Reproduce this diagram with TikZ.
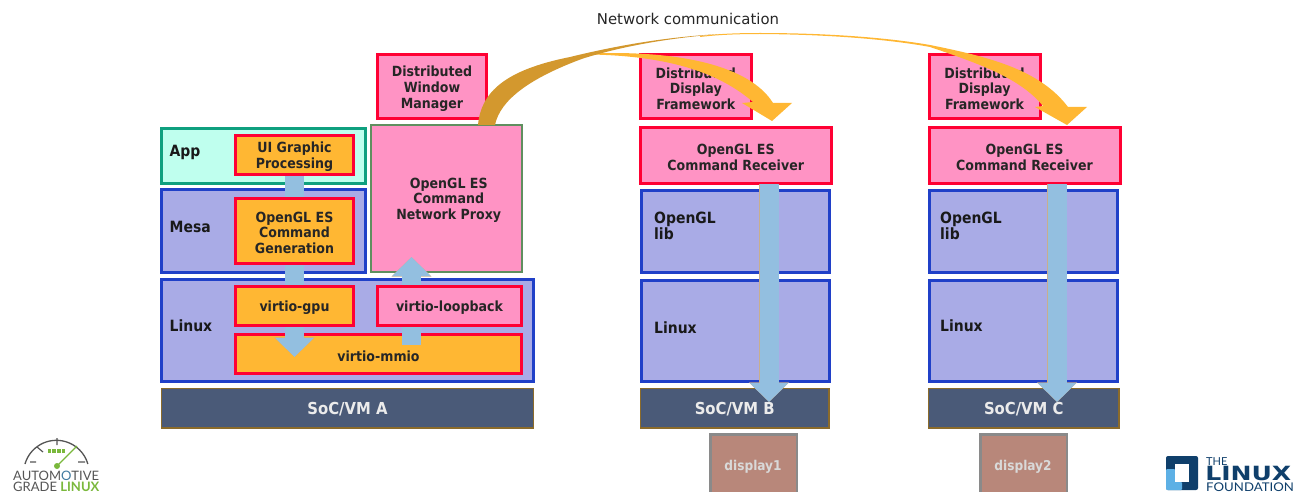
\documentclass[tikz,border=0pt]{standalone}
\usepackage{fontspec}
\setmainfont{DejaVu Sans Condensed}
\newfontfamily\netfont{DejaVu Sans}
\newfontfamily\logofont{Lato}
\usetikzlibrary{arrows.meta,calc}
\definecolor{pinkf}{HTML}{FF93C4}
\definecolor{redl}{HTML}{FF0033}
\definecolor{orangef}{HTML}{FFB733}
\definecolor{lavf}{HTML}{A9ABE6}
\definecolor{bluel}{HTML}{2040C8}
\definecolor{mintf}{HTML}{BFFFEE}
\definecolor{greenl}{HTML}{0FA07F}
\definecolor{proxyl}{HTML}{5F8F5F}
\definecolor{socf}{HTML}{4A5A78}
\definecolor{socl}{HTML}{8B6B2B}
\definecolor{dispf}{HTML}{B8877A}
\definecolor{displ}{HTML}{8A8A8A}
\definecolor{flowc}{HTML}{93BFE0}
\definecolor{flowl}{HTML}{C8AE8E}
\definecolor{ribbon}{HTML}{D3982E}
\definecolor{logogrey}{HTML}{555555}
\definecolor{agreen}{HTML}{7AB83C}
\definecolor{lfdark}{HTML}{0F3F6B}
\definecolor{lflight}{HTML}{5DB0E5}
\newcommand{\bx}[7]{%
  \pgfmathsetmacro{\bxw}{#5-#3}\pgfmathsetmacro{\bxh}{#6-#4}%
  \pgfmathsetmacro{\bxx}{(#5+#3)/2}\pgfmathsetmacro{\bxy}{(#6+#4)/2}%
  \node[#1,minimum width=\bxw pt,minimum height=\bxh pt] (#2) at (\bxx,\bxy) {\rule{0pt}{14.5pt}#7};}
\tikzset{
  base/.style={rectangle,inner sep=0pt,align=center,font=\fontsize{14}{15.7}\selectfont\bfseries,text=black!85},
  redpink/.style={base,draw=redl,fill=pinkf,line width=3pt},
  redorange/.style={base,draw=redl,fill=orangef,line width=3pt},
  layer/.style={base,draw=bluel,fill=lavf,line width=3pt},
  appbox/.style={base,draw=greenl,fill=mintf,line width=3pt},
  proxybox/.style={base,draw=proxyl,fill=pinkf,line width=2pt},
  socbox/.style={base,draw=socl,fill=socf,line width=1.8pt,text=white!92!black,font=\fontsize{16.5}{18}\selectfont\bfseries},
  dispbox/.style={base,draw=displ,fill=dispf,line width=2.2pt},
  disptext/.style={inner sep=0pt,font=\fontsize{13.5}{15}\selectfont\bfseries,text=white!85!black},
  lbl/.style={inner sep=0pt,anchor=west,align=left,font=\fontsize{15.5}{16}\selectfont\bfseries,text=black!90},
  logotext/.style={inner sep=0pt,anchor=base west,font=\logofont\fontsize{13}{13}\selectfont,text=logogrey},
  lftext/.style={inner sep=0pt,anchor=base west,text=lfdark},
  flow/.style={line width=19pt,draw=flowc,-{Triangle[length=19pt,width=37pt]},
    preaction={draw=flowl,line width=19.8pt,-{Triangle[length=19.6pt,width=39pt]}}},
}
\begin{document}
\begin{tikzpicture}[x=1pt,y=-1pt]
\useasboundingbox (0,0) rectangle (1297,492);
% --- column A background layers
\bx{appbox}{app}{161.5}{128.5}{365.5}{183}{}
\bx{layer}{mesa}{161.5}{189.5}{365.5}{272}{}
\bx{layer}{linuxa}{161.5}{279.5}{533.5}{381.5}{}
\bx{redorange}{mmio}{235.5}{334.5}{521.5}{373.5}{virtio-mmio}
\bx{socbox}{soca}{161.5}{388.5}{533.5}{428}{SoC/VM A}
\bx{proxybox}{proxy}{371}{125}{521.5}{271.5}{\hspace*{5pt}OpenGL ES\\\hspace*{5pt}Command\\\hspace*{5pt}Network Proxy}
\bx{redpink}{dwm}{377.5}{55}{486.5}{118.5}{Distributed\\Window\\Manager}
\bx{redorange}{ui}{235.5}{135.5}{353.5}{174.5}{UI Graphic\\Processing}
\coordinate (tipgpu) at (294.5,357);
\coordinate (srcmmio) at (411.5,345);
\coordinate (tipproxy) at (411.5,257);
\draw[flow] (ui.south) -- (tipgpu);
\draw[flow] (srcmmio) -- (tipproxy);
\bx{redorange}{gen}{235.5}{198.5}{353.5}{263}{OpenGL ES\\Command\\Generation}
\bx{redorange}{gpu}{235.5}{286.5}{353.5}{325.5}{virtio-gpu}
\bx{redpink}{loop}{377.5}{286.5}{521.5}{325.5}{virtio-loopback}
\node[lbl] (lapp) at (169.5,152.5) {App};
\node[lbl] (lmesa) at (169.5,227) {Mesa};
\node[lbl] (llinuxa) at (169.5,326) {Linux};
% --- column B
\bx{layer}{libb}{641}{190.5}{829}{272}{}
\bx{layer}{linuxb}{641}{280}{829}{381}{}
\bx{socbox}{socb}{640.5}{388.5}{829}{428}{SoC/VM B}
\bx{redpink}{ddfb}{640.5}{55}{751}{118.5}{Distributed\\Display\\Framework}
\bx{redpink}{recb}{640.5}{127.5}{831}{183}{OpenGL ES\\Command Receiver}
\coordinate (srcb) at (769,184);
\coordinate (tipb) at (769,402);
\draw[flow] (srcb) -- (tipb);
\node[lbl] (llibb) at (654,226) {OpenGL\\lib};
\node[lbl] (llinuxb) at (654,328) {Linux};
\bx{dispbox}{disp1}{710.5}{434.5}{797}{500}{}
\node[disptext] (tdisp1) at (753,467) {display1};
% --- column C
\bx{layer}{libc}{929}{190.5}{1117}{272}{}
\bx{layer}{linuxc}{929}{280}{1117}{381}{}
\bx{socbox}{socc}{928.5}{388.5}{1119}{428}{SoC/VM C}
\bx{redpink}{ddfc}{929}{55}{1040}{118.5}{Distributed\\Display\\Framework}
\bx{redpink}{recc}{929}{127.5}{1120}{183}{OpenGL ES\\Command Receiver}
\coordinate (srcc) at (1057,184);
\coordinate (tipc) at (1057,402);
\draw[flow] (srcc) -- (tipc);
\node[lbl] (llibc) at (940,226) {OpenGL\\lib};
\node[lbl] (llinuxc) at (940,326) {Linux};
\bx{dispbox}{disp2}{980.5}{434.5}{1067}{500}{}
\node[disptext] (tdisp2) at (1023,467) {display2};
% --- network communication ribbons
\fill[orangef] (590,53.5) .. controls (680,50) and (750,66) .. (773,103)
  -- (792,103) -- (772,121) -- (742,103) -- (753,102)
  .. controls (725,78) and (680,56) .. (590,54.5) -- cycle;
\fill[orangef] (700,36) .. controls (720,33.6) and (740,33) .. (760,33)
  .. controls (830,33) and (890,38) .. (930,45)
  .. controls (990,57) and (1040,70) .. (1068,107)
  -- (1087,107) -- (1067,125) -- (1035,107) -- (1043,106)
  .. controls (1020,78) and (980,64) .. (930,47)
  .. controls (890,39.5) and (830,34.5) .. (760,34)
  .. controls (740,34) and (720,34.6) .. (700,37) -- cycle;
\fill[ribbon] (478,125) .. controls (481,92) and (505,70) .. (570,57)
  .. controls (615,46) and (665,37) .. (720,34)
  .. controls (670,38) and (625,45.5) .. (583,58.5)
  .. controls (530,78) and (500,100) .. (495,125) -- cycle;
\node[inner sep=0pt,font=\netfont\fontsize{14.9}{16}\selectfont,text=black!85] (netlabel) at (688,18.5) {Network communication};
% --- AGL logo
\draw[logogrey,line width=1.3pt] (25,464) arc[start angle=-164,end angle=-16,radius=32.7];
\draw[logogrey,line width=1.2pt] (57,438) -- (57,445) (37,447) -- (43,452) (30,462) -- (36,462) (78,462) -- (85,462);
\foreach \q in {47.5,52.2,56.9,61.6}{\fill[agreen] (\q,449) rectangle ++(3.8,4);}
\draw[agreen,line width=1.3pt] (57,466) -- (77,446);
\fill[agreen] (57,466) circle[radius=3];
\node[logotext] (agl1) at (13,480.5) {AUTOM\textcolor{lflight!70!black}{O}TIVE};
\node[logotext] (agl2) at (13,491.5) {GRADE \textcolor{agreen}{\textbf{LINUX}}};
% --- LF logo
\fill[lfdark,rounded corners=2pt] (1166,456) rectangle (1198,490);
\fill[lflight,rounded corners=1pt] (1166,469) -- (1175,469) -- (1175,482) -- (1182,482) -- (1182,490) -- (1166,490) -- cycle;
\fill[white] (1175,464) rectangle (1189,482);
\node[lftext,font=\logofont\fontsize{11}{12}\selectfont] (lf1) at (1206,465) {THE};
\node[lftext,transform shape,xscale=1.28,font=\netfont\fontsize{19.6}{21}\selectfont\bfseries] (lf2) at (1205,480.3) {LINUX};
\node[lftext,transform shape,xscale=1.1,font=\logofont\fontsize{12}{13}\selectfont] (lf3) at (1206,491.7) {FOUNDATION};
\end{tikzpicture}
\end{document}
